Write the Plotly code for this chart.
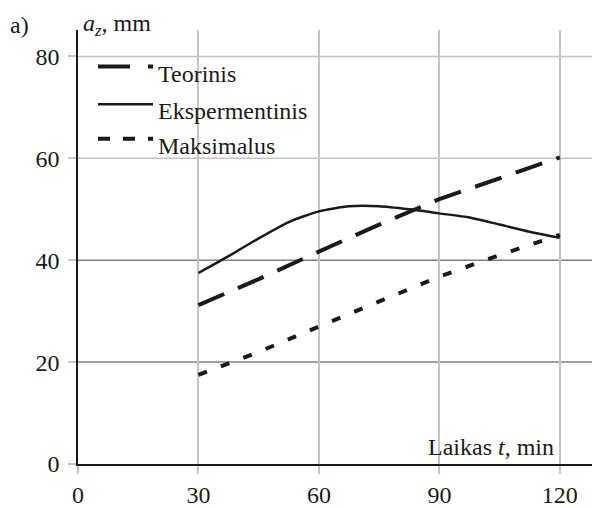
import plotly.graph_objects as go

# ---- data ----
t_theor = [30, 45, 60, 75, 90, 105, 120]
teorinis = [31.2, 36.3, 41.7, 47.0, 52.0, 56.2, 60.2]

t_exp = [30, 37.5, 45, 52.5, 60, 67.5, 75, 82.5, 90, 97.5, 105, 112.5, 120]
ekspermentinis = [37.5, 40.8, 44.3, 47.5, 49.6, 50.6, 50.6, 50.0, 49.2, 48.4, 47.0, 45.6, 44.4]

t_max = [30, 45, 60, 75, 90, 105, 120]
maksimalus = [17.5, 22.0, 27.0, 32.0, 36.8, 41.0, 45.0]

x_ticks = [0, 30, 60, 90, 120]
y_ticks = [0, 20, 40, 60, 80]
dark_grid = [20, 40]
light_grid = [60, 80]

FONT = "Liberation Serif"
INK = "#1a1a1a"

fig = go.Figure()
fig.add_trace(go.Scatter(x=t_exp, y=ekspermentinis, mode="lines", name="Ekspermentinis",
                         line=dict(color=INK, width=2.5, shape="spline", smoothing=0.6)))
fig.add_trace(go.Scatter(x=t_theor, y=teorinis, mode="lines", name="Teorinis",
                         line=dict(color=INK, width=4, dash="28px,15px")))
fig.add_trace(go.Scatter(x=t_max, y=maksimalus, mode="lines", name="Maksimalus",
                         line=dict(color=INK, width=4, dash="9px,15px")))

for v in light_grid:
    fig.add_hline(y=v, line=dict(color="#c4c4c4", width=1.5), layer="below")
for v in dark_grid:
    fig.add_hline(y=v, line=dict(color="#808080", width=1.5), layer="below")

# page pixel -> paper coords (page has an 8px body margin; plot area spans 78..600 x 30..469)
def px_x(p):
    return (p - 78) / 522.0

def px_y(p):
    return (469 - p) / 439.0

legend_items = [
    ("Teorinis", 67, 75, "32px,18px", 4),
    ("Ekspermentinis", 105, 112, "solid", 2.5),
    ("Maksimalus", 140, 147, "12px,13px", 4),
]
for name, py, ty, dash, w in legend_items:
    fig.add_shape(type="line", xref="paper", yref="paper",
                  x0=px_x(98), x1=px_x(153), y0=px_y(py), y1=px_y(py),
                  line=dict(color=INK, width=w, dash=dash))
    fig.add_annotation(text=name, xref="paper", yref="paper", x=px_x(156), y=px_y(ty),
                       xanchor="left", yanchor="middle", showarrow=False,
                       font=dict(family=FONT, size=24, color=INK))

fig.add_annotation(text="Laikas <i>t</i>, min", xref="paper", yref="paper",
                   x=px_x(556), y=px_y(467), xanchor="right", yanchor="bottom",
                   showarrow=False, font=dict(family=FONT, size=24, color=INK))
fig.add_annotation(text="<i>a</i><sub><i>z</i></sub>, mm", xref="paper", yref="paper",
                   x=px_x(81), y=px_y(25), xanchor="left", yanchor="middle",
                   showarrow=False, font=dict(family=FONT, size=24, color=INK))
fig.add_annotation(text="a)", xref="paper", yref="paper",
                   x=px_x(8), y=px_y(25), xanchor="left", yanchor="middle",
                   showarrow=False, font=dict(family=FONT, size=24, color=INK))

fig.update_layout(
    width=592, height=500,
    margin=dict(l=70, r=0, t=22, b=39),
    paper_bgcolor="white", plot_bgcolor="white",
    showlegend=False,
    font=dict(family=FONT, size=24, color=INK),
    xaxis=dict(range=[0, 130], tickvals=x_ticks, showgrid=True, gridcolor="#c4c4c4", gridwidth=1.5,
               zeroline=False, showline=True, linecolor=INK, linewidth=1.5,
               ticks="outside", ticklen=8, tickcolor="#c4c4c4", tickwidth=1.5, fixedrange=True),
    yaxis=dict(range=[0, 85.2], tickvals=y_ticks, showgrid=False,
               zeroline=False, showline=True, linecolor=INK, linewidth=1.5,
               ticks="outside", ticklen=8, tickcolor="#c4c4c4", tickwidth=1.5,
               ticklabelstandoff=4, fixedrange=True),
)

fig.write_html("out.html")
